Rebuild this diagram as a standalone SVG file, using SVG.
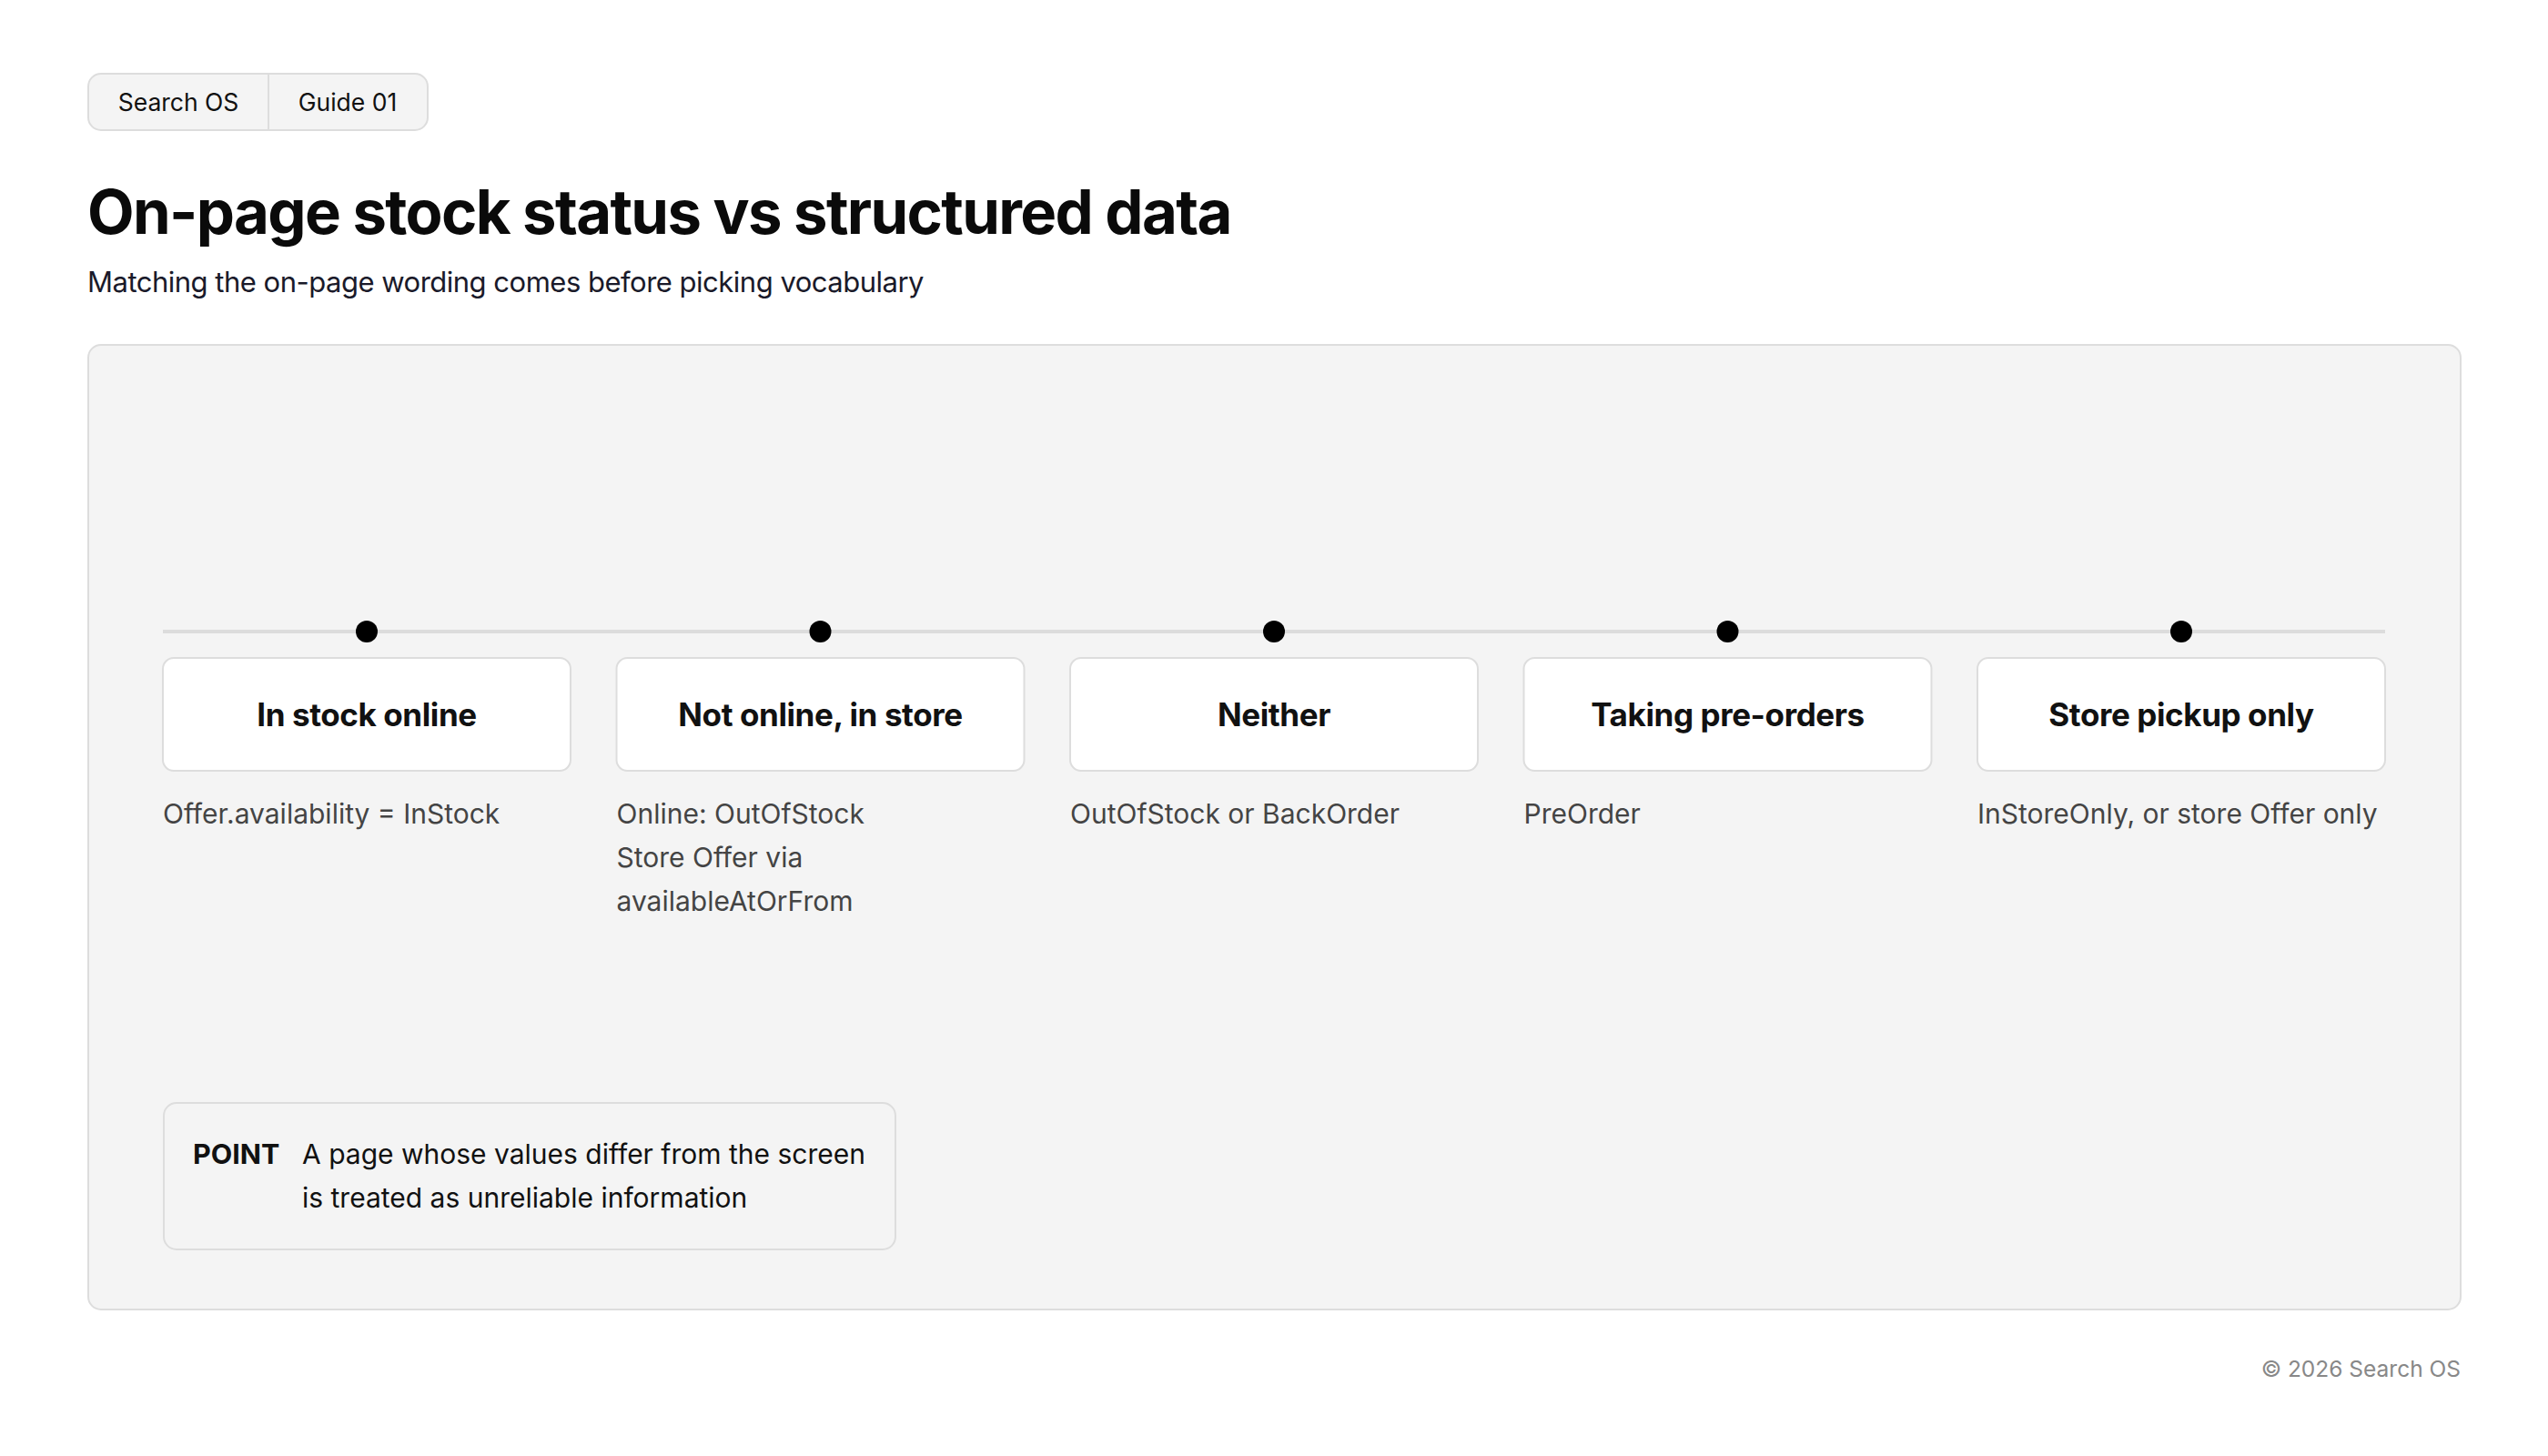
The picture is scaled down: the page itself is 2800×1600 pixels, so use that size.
<svg xmlns="http://www.w3.org/2000/svg" width="2800" height="1600" viewBox="0 0 2800 1600">
<style>
  .f { font-family: Inter, "Noto Sans", "Liberation Sans", sans-serif; }
  .tab { font-size: 26.5px; fill: #111; }
  .title { font-size: 67px; font-weight: 700; fill: #0a0a0a; letter-spacing: -1.65px; }
  .sub { font-size: 31px; fill: #1a1a2a; letter-spacing: -0.5px; }
  .card { fill: #ffffff; stroke: #dddddd; stroke-width: 2; }
  .lbl { font-size: 35px; font-weight: 700; fill: #111; text-anchor: middle; letter-spacing: -0.4px; }
  .desc { font-size: 30px; fill: #444; }
  .dot { fill: #000; }
  .pt { font-size: 30px; fill: #111; }
  .ptb { font-size: 30.5px; font-weight: 700; fill: #111; }
  .foot { font-size: 24.5px; fill: #888; text-anchor: end; }
</style>
<rect width="2800" height="1600" fill="#ffffff"/>

<g id="tabs">
  <rect x="97" y="81" width="373" height="62" rx="14" fill="#f4f4f4" stroke="#dddddd" stroke-width="2"/>
  <line x1="295" y1="82" x2="295" y2="142" stroke="#dddddd" stroke-width="2"/>
  <text class="f tab" x="196" y="122" text-anchor="middle">Search OS</text>
  <text class="f tab" x="382" y="122" text-anchor="middle">Guide 01</text>
</g>

<text class="f title" x="96" y="257">On-page stock status vs structured data</text>
<text class="f sub" x="96" y="321">Matching the on-page wording comes before picking vocabulary</text>

<g id="panel">
  <rect x="97" y="379" width="2607" height="1060" rx="14" fill="#f4f4f4" stroke="#dddddd" stroke-width="2"/>
</g>

<g id="connectors">
  <line x1="179" y1="694" x2="2621" y2="694" stroke="#dcdcdc" stroke-width="4"/>
</g>

<g id="node1">
  <circle class="dot" cx="403" cy="694" r="12"/>
  <rect class="card" x="179" y="723" width="448" height="124" rx="12"/>
  <text class="f lbl" x="403" y="798">In stock online</text>
  <text class="f desc" x="179" y="905">Offer.availability = InStock</text>
</g>
<g id="node2">
  <circle class="dot" cx="901.5" cy="694" r="12"/>
  <rect class="card" x="677.5" y="723" width="448" height="124" rx="12"/>
  <text class="f lbl" x="901.5" y="798">Not online, in store</text>
  <text class="f desc" x="677.5" y="905">Online: OutOfStock</text>
  <text class="f desc" x="677.5" y="953">Store Offer via</text>
  <text class="f desc" x="677.5" y="1001">availableAtOrFrom</text>
</g>
<g id="node3">
  <circle class="dot" cx="1400" cy="694" r="12"/>
  <rect class="card" x="1176" y="723" width="448" height="124" rx="12"/>
  <text class="f lbl" x="1400" y="798">Neither</text>
  <text class="f desc" x="1176" y="905">OutOfStock or BackOrder</text>
</g>
<g id="node4">
  <circle class="dot" cx="1898.5" cy="694" r="12"/>
  <rect class="card" x="1674.5" y="723" width="448" height="124" rx="12"/>
  <text class="f lbl" x="1898.5" y="798">Taking pre-orders</text>
  <text class="f desc" x="1674.5" y="905">PreOrder</text>
</g>
<g id="node5">
  <circle class="dot" cx="2397" cy="694" r="12"/>
  <rect class="card" x="2173" y="723" width="448" height="124" rx="12"/>
  <text class="f lbl" x="2397" y="798">Store pickup only</text>
  <text class="f desc" x="2173" y="905">InStoreOnly, or store Offer only</text>
</g>

<g id="point">
  <rect x="180" y="1212" width="804" height="161" rx="14" fill="#f4f4f4" stroke="#dddddd" stroke-width="2"/>
  <text class="f ptb" x="212" y="1279">POINT</text>
  <text class="f pt" x="332" y="1279">A page whose values differ from the screen</text>
  <text class="f pt" x="332" y="1327">is treated as unreliable information</text>
</g>

<text class="f foot" x="2704" y="1513">© 2026 Search OS</text>
</svg>
